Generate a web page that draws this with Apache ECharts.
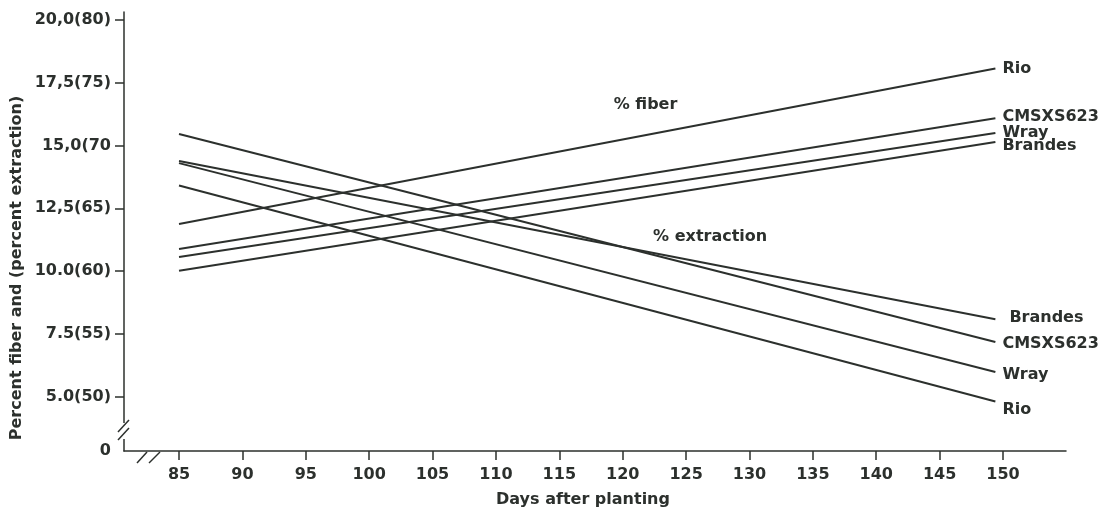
<!DOCTYPE html>
<html>
<head>
<meta charset="utf-8">
<script src="https://cdn.jsdelivr.net/npm/echarts@6/dist/echarts.min.js"></script>
<style>
html,body{margin:0;padding:0;background:#fff;}
#chart{width:1109px;height:513px;}
</style>
</head>
<body>
<div id="chart"></div>
<script>
// ---- data ----
const days = [85, 149.4];
const fiberRio = [11.87, 18.07];
const fiberCMSXS623 = [10.88, 16.09];
const fiberWray = [10.56, 15.5];
const fiberBrandes = [10.01, 15.14];
const extrRio = [13.41, 4.8];
const extrWray = [14.3, 5.98];
const extrCMSXS623 = [15.46, 7.17];
const extrBrandes = [14.38, 8.08];

const xTickValues = [85, 90, 95, 100, 105, 110, 115, 120, 125, 130, 135, 140, 145, 150];
const yTickValues = [5, 7.5, 10, 12.5, 15, 17.5, 20];
const yTickLabels = ["5.0(50)", "7.5(55)", "10.0(60)", "12,5(65)", "15,0(70", "17,5(75)", "20,0(80)"];
const yZeroLabel = "0";
const yMin = 2.83, yMax = 20.32;
const xMin = 80.66, xMax = 154.97;

const annotations = [
  { text: "% fiber", x: 121.8, y: 16.64 },
  { text: "% extraction", x: 126.9, y: 11.35 }
];

// ---- styling ----
const INK = '#2c302d';
const FONT = 'DejaVu Sans';
const GL = 124, GT = 12, GR = 43, GB = 57;
const W = 1109, H = 513;
const gx0 = GL, gy1 = H - GB;

function lineSeries(name, vals, offset, distance) {
  return {
    type: 'line',
    name: name,
    data: days.map((d, i) => [d, vals[i]]),
    symbol: 'none',
    lineStyle: { color: INK, width: 2 },
    endLabel: {
      show: true, formatter: name, color: INK,
      fontFamily: FONT, fontWeight: 'bold', fontSize: 16,
      offset: offset || [0, 0], distance: distance || 6
    },
    z: 3
  };
}

const series = [
  lineSeries('Rio', fiberRio, [0, 0], 7),
  lineSeries('CMSXS623', fiberCMSXS623, [0, -1], 7),
  lineSeries('Wray', fiberWray, [0, 0], 7),
  lineSeries('Brandes', fiberBrandes, [0, 4], 7),
  lineSeries('Brandes', extrBrandes, [0, -1], 14),
  lineSeries('CMSXS623', extrCMSXS623, [0, 2], 7),
  lineSeries('Wray', extrWray, [0, 3], 7),
  lineSeries('Rio', extrRio, [0, 8], 7),
  {
    type: 'scatter',
    symbolSize: 0,
    itemStyle: { opacity: 1 },
    data: annotations.map(a => ({ value: [a.x, a.y], name: a.text })),
    label: {
      show: true, position: 'inside', formatter: p => p.name, opacity: 1,
      color: INK, fontFamily: FONT, fontWeight: 'bold', fontSize: 16
    },
    silent: true
  }
];

const axisTextStyle = { color: INK, fontFamily: FONT, fontWeight: 'bold', fontSize: 16 };

const chart = echarts.init(document.getElementById('chart'), null, { renderer: 'canvas' });
chart.setOption({
  animation: false,
  backgroundColor: '#fff',
  grid: { left: GL, top: GT, right: GR, bottom: GB, containLabel: false },
  xAxis: {
    type: 'value', min: xMin, max: xMax,
    name: 'Days after planting', nameLocation: 'middle', nameGap: 41,
    nameTextStyle: Object.assign({}, axisTextStyle, { padding: [0, 24, 0, 0] }),
    axisLine: { show: true, lineStyle: { color: INK, width: 1.5 } },
    axisTick: { show: true, length: 9, customValues: xTickValues, lineStyle: { color: INK, width: 1.5 } },
    axisLabel: Object.assign({ customValues: xTickValues, margin: 16 }, axisTextStyle),
    splitLine: { show: false }
  },
  yAxis: {
    type: 'value', min: yMin, max: yMax,
    axisLine: { show: true, lineStyle: { color: INK, width: 1.5 } },
    axisTick: { show: true, length: 9, customValues: yTickValues, lineStyle: { color: INK, width: 1.5 } },
    axisLabel: Object.assign({
      customValues: [yMin].concat(yTickValues), margin: 13,
      formatter: v => {
        if (Math.abs(v - yMin) < 1e-6) return yZeroLabel;
        const i = yTickValues.findIndex(t => Math.abs(t - v) < 1e-6);
        return i >= 0 ? yTickLabels[i] : '';
      }
    }, axisTextStyle),
    splitLine: { show: false }
  },
  graphic: [
    // y axis title
    { type: 'text', x: 17, y: 268, rotation: Math.PI / 2, z: 100,
      style: { text: 'Percent fiber and (percent extraction)', fill: INK, fontFamily: FONT, fontWeight: 'bold', fontSize: 16, align: 'center', verticalAlign: 'middle' } },
    // y axis break
    { type: 'rect', z: 100, shape: { x: gx0 - 3, y: 423, width: 6, height: 16 }, style: { fill: '#fff' } },
    { type: 'line', z: 101, shape: { x1: gx0 + 5, y1: 420, x2: gx0 - 6, y2: 432 }, style: { stroke: INK, lineWidth: 1.5 } },
    { type: 'line', z: 101, shape: { x1: gx0 + 5, y1: 428, x2: gx0 - 6, y2: 440 }, style: { stroke: INK, lineWidth: 1.5 } },
    // x axis break
    { type: 'rect', z: 100, shape: { x: gx0 + 14, y: gy1 - 3, width: 22, height: 6 }, style: { fill: '#fff' } },
    { type: 'line', z: 101, shape: { x1: gx0 + 13, y1: gy1 + 7, x2: gx0 + 23, y2: gy1 - 4 }, style: { stroke: INK, lineWidth: 1.5 } },
    { type: 'line', z: 101, shape: { x1: gx0 + 25, y1: gy1 + 7, x2: gx0 + 36, y2: gy1 - 4 }, style: { stroke: INK, lineWidth: 1.5 } }
  ],
  series: series
});
</script>
</body>
</html>
